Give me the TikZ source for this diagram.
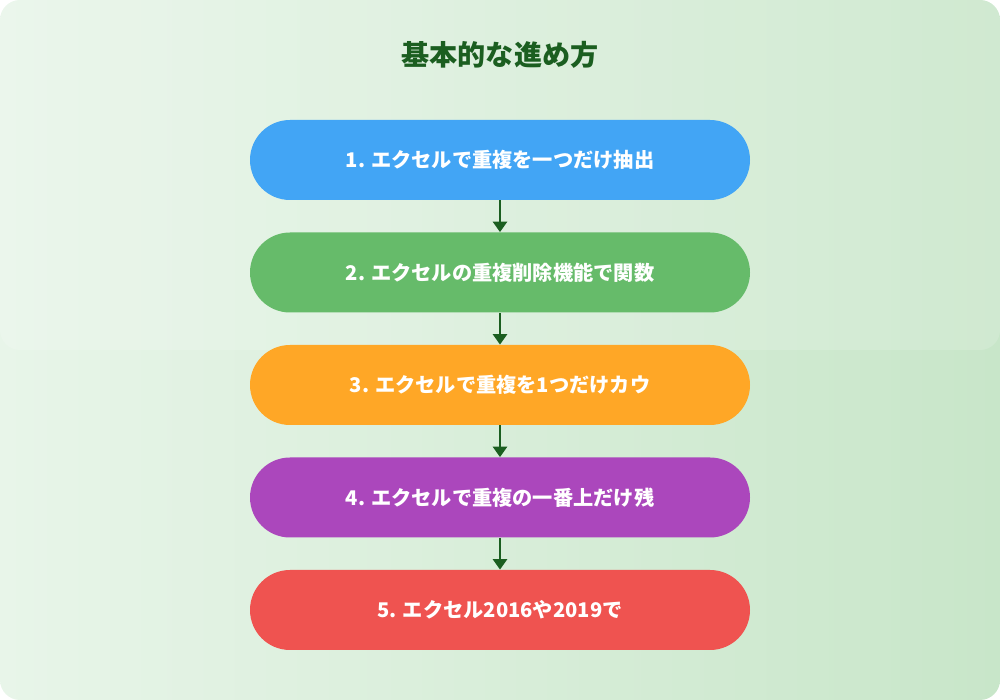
\documentclass[tikz,border=0pt]{standalone}
\usepackage{fontspec}
\setmainfont{Noto Sans CJK JP}
\usetikzlibrary{arrows.meta,positioning}
\definecolor{bgA}{HTML}{E8F5E9}
\definecolor{bgB}{HTML}{C8E6C9}
\definecolor{titlegreen}{HTML}{1B5E20}
\definecolor{stepblue}{HTML}{42A5F5}
\definecolor{stepgreen}{HTML}{66BB6A}
\definecolor{steporange}{HTML}{FFA726}
\definecolor{steppurple}{HTML}{AB47BC}
\definecolor{stepred}{HTML}{EF5350}
\tikzset{
  stepbox/.style={rounded corners=0.8cm, minimum width=10cm, minimum height=1.6cm,
    text=white, font=\bfseries\fontsize{11.5}{14}\selectfont},
  flow/.style={-{Triangle[length=6pt,width=8pt]}, titlegreen, line width=1.6pt}
}
\begin{document}
\begin{tikzpicture}
        % background
        \useasboundingbox (0,0) rectangle (20,14);
        \shade[left color=bgA, right color=bgB, rounded corners=0.4cm] (0,0) rectangle (20,14);
        \fill[white, opacity=0.15, rounded corners=0.4cm] (0,14) rectangle (20,7);

        % title
        \node[text=titlegreen, font=\bfseries\fontsize{16}{19}\selectfont] (title) at (10,12.9) {基本的な進め方};

        % steps
        \node[stepbox, fill=stepblue] (step1) at (10,10.8) {1. エクセルで重複を一つだけ抽出};
        \node[stepbox, fill=stepgreen] (step2) at (10,8.55) {2. エクセルの重複削除機能で関数};
        \node[stepbox, fill=steporange] (step3) at (10,6.3) {3. エクセルで重複を1つだけカウ};
        \node[stepbox, fill=steppurple] (step4) at (10,4.05) {4. エクセルで重複の一番上だけ残};
        \node[stepbox, fill=stepred] (step5) at (10,1.8) {5. エクセル2016や2019で};

        % arrows between steps
        \draw[flow] (step1) -- (step2);
        \draw[flow] (step2) -- (step3);
        \draw[flow] (step3) -- (step4);
        \draw[flow] (step4) -- (step5);
\end{tikzpicture}
\end{document}
